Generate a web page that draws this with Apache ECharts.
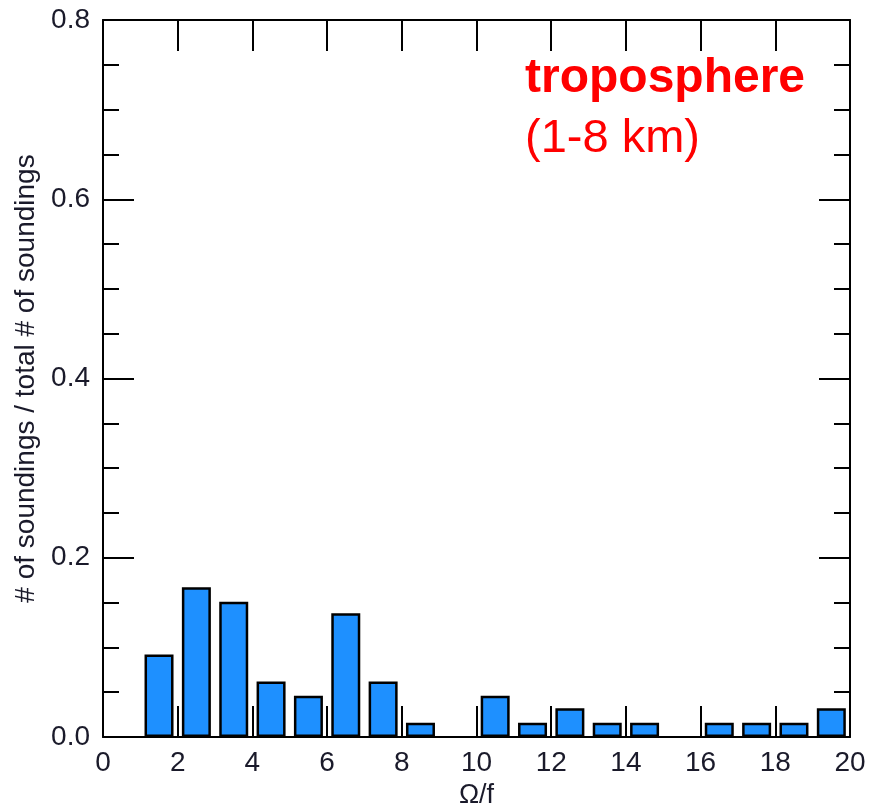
<!DOCTYPE html>
<html>
<head>
<meta charset="utf-8">
<script src="https://cdn.jsdelivr.net/npm/echarts@6/dist/echarts.min.js"></script>
<style>
html,body{margin:0;padding:0;background:#fff;}
#chart{width:870px;height:806px;}
</style>
</head>
<body>
<div id="chart"></div>
<script>
// Bin centres (Ω/f) and fraction of soundings
var binCenters = [1.5, 2.5, 3.5, 4.5, 5.5, 6.5, 7.5, 8.5, 9.5, 10.5, 11.5, 12.5, 13.5, 14.5, 15.5, 16.5, 17.5, 18.5, 19.5];
var fractions  = [0.092, 0.167, 0.151, 0.062, 0.046, 0.138, 0.062, 0.016, 0, 0.046, 0.016, 0.032, 0.016, 0.016, 0, 0.016, 0.016, 0.016, 0.032];
var xTicks = [0, 2, 4, 6, 8, 10, 12, 14, 16, 18, 20];
var yTicks = [0.0, 0.2, 0.4, 0.6, 0.8];
var titleMain = 'troposphere';
var titleSub = '(1-8 km)';
var xName = 'Ω/f';
var yName = '# of soundings / total # of soundings';

// empty bins are not drawn
var barData = binCenters.map(function (c, i) { return fractions[i] > 0 ? [c, fractions[i]] : [c, '-']; });
var FONT = '"Liberation Sans", Arial, sans-serif';
var axisLine = { show: true, onZero: false, lineStyle: { color: '#000', width: 2 } };

var chart = echarts.init(document.getElementById('chart'), null, { renderer: 'canvas' });
chart.setOption({
  animation: false,
  backgroundColor: '#fff',
  grid: { left: 103, right: 20, top: 20, bottom: 69, containLabel: false, outerBoundsMode: 'none' },
  title: {
    text: titleMain,
    subtext: titleSub,
    left: 520,
    top: 50,
    itemGap: 13,
    textStyle: { fontFamily: FONT, fontSize: 48, fontWeight: 'bold', color: '#ff0000' },
    subtextStyle: { fontFamily: FONT, fontSize: 47, fontWeight: 'normal', color: '#ff0000' }
  },
  xAxis: [{
    type: 'value', position: 'bottom', min: xTicks[0], max: xTicks[xTicks.length - 1], interval: 2,
    axisLine: axisLine,
    axisTick: { show: true, inside: true, length: 31, lineStyle: { color: '#000', width: 2 } },
    axisLabel: { show: true, margin: 12, fontFamily: FONT, fontSize: 28, color: '#1a1a2a' },
    splitLine: { show: false },
    name: xName, nameLocation: 'middle', nameGap: 39,
    nameTextStyle: { fontFamily: FONT, fontSize: 27, color: '#1a1a2a' }
  }, {
    type: 'value', position: 'top', min: xTicks[0], max: xTicks[xTicks.length - 1], interval: 2,
    axisLine: axisLine,
    axisTick: { show: true, inside: true, length: 31, lineStyle: { color: '#000', width: 2 } },
    axisLabel: { show: false },
    splitLine: { show: false }
  }],
  yAxis: [{
    type: 'value', position: 'left', min: yTicks[0], max: yTicks[yTicks.length - 1], interval: 0.2,
    axisLine: axisLine,
    axisTick: { show: true, inside: true, length: 31, lineStyle: { color: '#000', width: 2 } },
    minorTick: { show: true, splitNumber: 4, length: 16, lineStyle: { color: '#000', width: 2 } },
    axisLabel: { show: true, margin: 13, fontFamily: FONT, fontSize: 28, color: '#1a1a2a',
      formatter: function (v) { return v.toFixed(1); } },
    splitLine: { show: false },
    name: yName, nameLocation: 'middle', nameGap: 62, nameRotate: 90,
    nameTextStyle: { fontFamily: FONT, fontSize: 28, color: '#1a1a2a' }
  }, {
    type: 'value', position: 'right', min: yTicks[0], max: yTicks[yTicks.length - 1], interval: 0.2,
    axisLine: axisLine,
    axisTick: { show: true, inside: true, length: 31, lineStyle: { color: '#000', width: 2 } },
    minorTick: { show: true, splitNumber: 4, length: 16, lineStyle: { color: '#000', width: 2 } },
    axisLabel: { show: false },
    splitLine: { show: false }
  }],
  series: [{
    type: 'bar',
    xAxisIndex: 0, yAxisIndex: 0,
    data: barData,
    barWidth: 29,
    itemStyle: { color: '#1e90ff', borderColor: '#000', borderWidth: 2.5 },
    z: 3
  }]
});
</script>
</body>
</html>
